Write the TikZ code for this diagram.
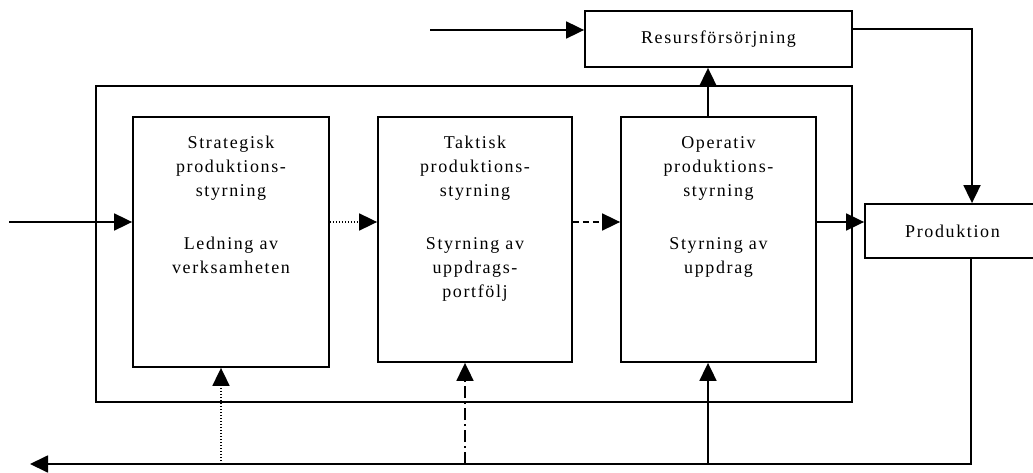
\documentclass[tikz,border=0pt]{standalone}
\usepackage{fontspec}
\setmainfont{Liberation Serif}[LetterSpace=9]
\usetikzlibrary{arrows.meta,calc}
\begin{document}
\begin{tikzpicture}[x=1pt,y=-1pt,
  every node/.style={font=\fontsize{18}{24}\selectfont, align=center, inner sep=0pt},
  box/.style={draw, line width=1.8pt},
  outerbox/.style={draw, line width=1.3pt},
  conn/.style={line width=1.8pt},
  arr/.style={conn, -{Triangle[length=18pt,width=17pt]}},
  dotline/.style={dash pattern=on 1.5pt off 1.5pt},
  dashline/.style={dash pattern=on 6pt off 4pt},
  dashdotline/.style={dash pattern=on 12pt off 4pt on 2pt off 4pt}]
\useasboundingbox (0,0) rectangle (1033,473);

% frame round the three levels of control
\node[outerbox, minimum width=756pt, minimum height=316pt] (frame) at (474,244) {};

% the three levels
\node[box, minimum width=196pt, minimum height=250pt] (strat) at (231,242) {};
\node[box, minimum width=194pt, minimum height=245pt] (takt) at (475,239.5) {};
\node[box, minimum width=195pt, minimum height=245pt] (oper) at (718.5,239.5) {};

\node[anchor=north] (stratA) at (231,136) {Strategisk\\produktions-\\styrning};
\node[anchor=north] (stratB) at (231,237) {Ledning av\\verksamheten};
\node[anchor=north] (taktA) at (475,136) {Taktisk\\produktions-\\styrning};
\node[anchor=north] (taktB) at (475,237) {Styrning av\\uppdrags-\\portfölj};
\node[anchor=north] (operA) at (718.5,136) {Operativ\\produktions-\\styrning};
\node[anchor=north] (operB) at (718.5,237) {Styrning av\\uppdrag};

% resources and production
\node[box, minimum width=267pt, minimum height=56pt] (res) at (718.5,39) {Resursförsörjning};
\node[box, minimum width=175pt, minimum height=54pt] (prod) at (952.5,231) {Produktion};

% connector end points
\coordinate (in) at (9,222);
\coordinate (resin) at (430,30);
\coordinate (up) at (708,0);
\coordinate (resout) at (972,29);
\coordinate (fb) at (30,464);
\coordinate (fbR) at (971,464);

% horizontal flow
\draw[arr] (in) -- (in -| strat.west);
\draw[arr, dotline] (in -| strat.east) -- (in -| takt.west);
\draw[arr, dashline] (in -| takt.east) -- (in -| oper.west);
\draw[arr] (in -| oper.east) -- (in -| prod.west);

% resources
\draw[arr] (resin) -- (resin -| res.west);
\draw[arr] (up |- oper.north) -- (up |- res.south);
\draw[arr] (resout -| res.east) -- (resout) -- (resout |- prod.north);

% feedback from production
\draw[arr] (fbR |- prod.south) -- (fbR) -- (fb);
\draw[arr, dotline] (221,464) -- (221,0 |- strat.south);
\draw[arr, dashdotline] (465,464) -- (465,0 |- takt.south);
\draw[arr] (708,464) -- (708,0 |- oper.south);
\end{tikzpicture}
\end{document}
